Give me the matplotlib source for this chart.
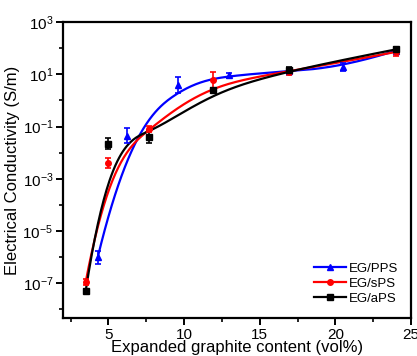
import numpy as np
import matplotlib
matplotlib.use("Agg")
import matplotlib.pyplot as plt

plt.rcParams["font.family"] = ["Liberation Sans", "DejaVu Sans"]
plt.rcParams["mathtext.default"] = "regular"

# data (vol% EG, S/m, error in decades)
x_pps = [4.3, 6.25, 9.6, 13.0, 16.9, 20.5, 24.0]
y_pps = [1.0e-6, 0.045, 4.0, 9.0, 13.0, 19.0, 80.0]
e_pps = [0.25, 0.3, 0.3, 0.1, 0.1, 0.15, 0.1]

x_sps = [3.5, 5.0, 7.7, 11.9, 16.9, 24.0]
y_sps = [1.1e-7, 4.0e-3, 0.08, 6.0, 12.0, 72.0]
e_sps = [0.1, 0.2, 0.1, 0.3, 0.1, 0.17]

x_aps = [3.5, 5.0, 7.7, 11.9, 16.9, 24.0]
y_aps = [5.0e-8, 0.022, 0.04, 2.6, 14.0, 90.0]
e_aps = [0.08, 0.2, 0.25, 0.05, 0.12, 0.1]


def bspline(xs, ys, n=200):
    # clamped cubic B-spline with the points as control points (log-y space)
    P = np.column_stack([xs, np.log10(ys)])
    k = 3
    m = len(P)
    knots = np.concatenate([np.zeros(k), np.linspace(0, 1, m - k + 1), np.ones(k)])
    t = np.linspace(0, 1 - 1e-9, n)
    out = []
    for tt in t:
        i = np.searchsorted(knots, tt, side="right") - 1
        d = [P[j + i - k].copy() for j in range(k + 1)]
        for r in range(1, k + 1):
            for j in range(k, r - 1, -1):
                a = (tt - knots[j + i - k]) / (knots[j + 1 + i - r] - knots[j + i - k])
                d[j] = (1 - a) * d[j - 1] + a * d[j]
        out.append(d[k])
    out.append(P[-1])
    out = np.array(out)
    return out[:, 0], 10 ** out[:, 1]


fig = plt.figure(figsize=(4.17, 3.56), dpi=100)
ax = fig.add_axes([0.151, 0.107, 0.835, 0.831])

series = [
    (x_pps, y_pps, e_pps, "blue", "^", "EG/PPS"),
    (x_sps, y_sps, e_sps, "red", "o", "EG/sPS"),
    (x_aps, y_aps, e_aps, "black", "s", "EG/aPS"),
]
for xs, ys, es, c, mk, lab in series:
    ys = np.array(ys)
    es = np.array(es)
    lo = ys - ys / 10 ** es
    hi = ys * 10 ** es - ys
    ax.errorbar(xs, ys, yerr=[lo, hi], fmt=mk, color=c, ms=4, capsize=2.5,
                elinewidth=1.2, capthick=1.2, zorder=3)
    bx, by = bspline(xs, ys)
    ax.plot(bx, by, color=c, lw=1.6, zorder=2)
    ax.plot([], [], color=c, marker=mk, ms=4, lw=1.6, label=lab)

ax.set_yscale("log")
ax.set_xlim(2, 25)
ax.set_ylim(10 ** -8.33, 1e3)
ax.set_xticks([5, 10, 15, 20, 25])
ax.set_xticks([2.5, 7.5, 12.5, 17.5, 22.5], minor=True)
ax.set_yticks([1e-7, 1e-5, 1e-3, 1e-1, 1e1, 1e3])
ax.set_yticks([1e-8, 1e-6, 1e-4, 1e-2, 1e0, 1e2], minor=True)
ax.yaxis.set_minor_formatter(plt.NullFormatter())

for s in ax.spines.values():
    s.set_linewidth(1.6)
ax.tick_params(which="major", length=5, width=1.4, labelsize=11, pad=2)
ax.tick_params(which="minor", length=3, width=1.2)

ax.set_xlabel("Expanded graphite content (vol%)", fontsize=12, labelpad=-1)
ax.set_ylabel("Electrical Conductivity (S/m)", fontsize=12, labelpad=2)

ax.legend(loc="lower right", frameon=False, fontsize=9.5, handlelength=2.4,
          handletextpad=0.2, labelspacing=0.2, borderaxespad=0.6)

fig.savefig("out.png", dpi=100)
